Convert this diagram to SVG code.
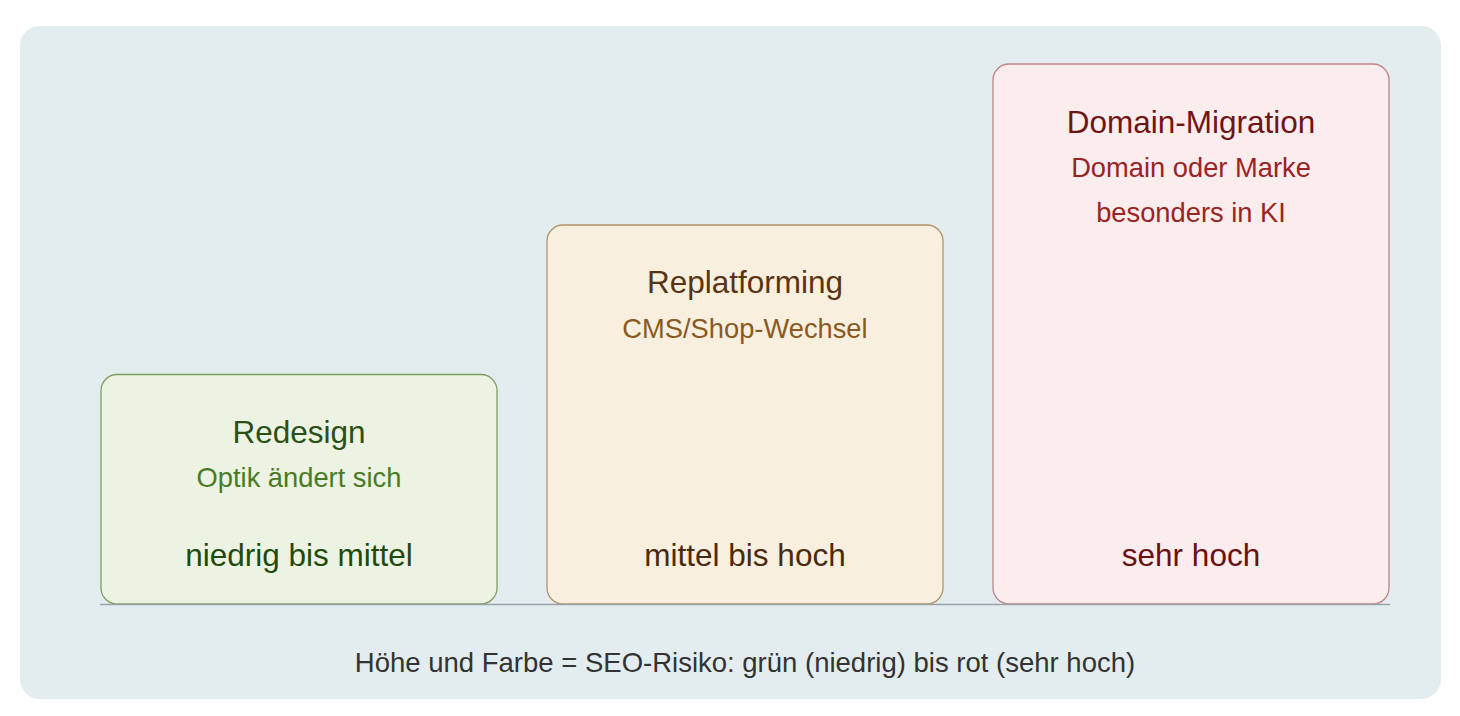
<svg xmlns="http://www.w3.org/2000/svg" width="1460" height="716" viewBox="0 0 1460 716">
<style>
text{font-family:"Liberation Sans",Arial,sans-serif;text-anchor:middle}
.t{font-size:31.5px}
.s{font-size:27.3px}
.b{font-size:31.5px}
.f{font-size:27.5px}
.box{stroke-width:1.3}
</style>
<rect x="20" y="26" width="1421" height="673" rx="20" fill="#e3ecee"/>
<g id="redesign">
<rect class="box" x="101" y="374.5" width="396" height="229.5" rx="16" fill="#ecf3e2" stroke="#7f9f62"/>
<text class="t" x="299" y="443" fill="#2b5015">Redesign</text>
<text class="s" x="299" y="487" fill="#4b7a24">Optik ändert sich</text>
<text class="b" x="299" y="566" fill="#1e4a0c">niedrig bis mittel</text>
</g>
<g id="replatforming">
<rect class="box" x="547" y="225" width="396" height="379" rx="16" fill="#f8efdf" stroke="#b39468"/>
<text class="t" x="745" y="293" fill="#5a3412">Replatforming</text>
<text class="s" x="745" y="338" fill="#8a5a22">CMS/Shop-Wechsel</text>
<text class="b" x="745" y="566" fill="#4a2a0c">mittel bis hoch</text>
</g>
<g id="domain-migration">
<rect class="box" x="993" y="64" width="396" height="540" rx="16" fill="#fbeced" stroke="#c08486"/>
<text class="t" x="1191" y="133" fill="#701515">Domain-Migration</text>
<text class="s" x="1191" y="177" fill="#9a2424">Domain oder Marke</text>
<text class="s" x="1191" y="222" fill="#9a2424">besonders in KI</text>
<text class="b" x="1191" y="566" fill="#6a1010">sehr hoch</text>
</g>
<g id="connectors">
<line x1="100" y1="604.5" x2="1390" y2="604.5" stroke="#9aa4a8" stroke-width="1.5"/>
</g>
<text class="f" x="745" y="672" fill="#333333">Höhe und Farbe = SEO-Risiko: grün (niedrig) bis rot (sehr hoch)</text>
</svg>
